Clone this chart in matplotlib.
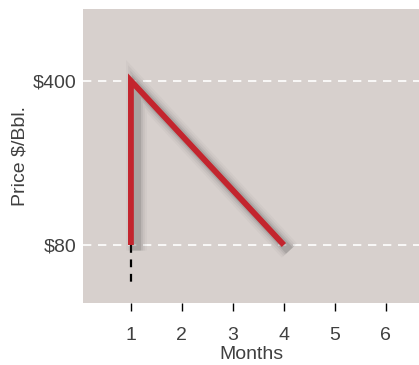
import matplotlib
matplotlib.use('Agg')
from matplotlib import pyplot as plt
import matplotlib.patheffects as pe

# price path (months, $/bbl position)
months = [1, 1, 4]
prices = [80, 400, 80]
drop_x = [1, 1]
drop_y = [80, 5]
xticks = [1, 2, 3, 4, 5, 6]
yticks = [80, 400]
ylabels = ['$80', '$400']

plt.rcParams['font.family'] = ['Liberation Sans', 'DejaVu Sans']
txt = '#404040'

fig = plt.figure(figsize=(4.19, 3.65), dpi=100)
ax = fig.add_axes([83/419, 62/365, 336/419, 294/365])
ax.set_facecolor('#d7d0cd')
for s in ax.spines.values():
    s.set_visible(False)

for v in yticks:
    ax.axhline(v, color='white', lw=1.2, ls=(0, (5, 4)), zorder=1)

ax.plot(drop_x, drop_y, color='black', lw=1.6, ls=(0, (3.5, 3)), zorder=2)

# soft shadow by stacking several faint offset shadows
shadow = []
for w, a in [(15, 0.04), (12, 0.06), (9, 0.09), (6.5, 0.14)]:
    shadow.append(pe.SimpleLineShadow(offset=(4, -4), shadow_color='#404040',
                                      alpha=a, linewidth=w))
shadow.append(pe.Normal())
ax.plot(months, prices, color='#c3252e', lw=4.2, solid_joinstyle='miter',
        solid_capstyle='butt', path_effects=shadow, zorder=3)

ax.set_xlim(0.06, 6.65)
ax.set_ylim(-33, 540)
ax.set_xticks(xticks)
ax.set_xticklabels([str(t) for t in xticks], fontsize=14, color=txt)
ax.set_yticks(yticks)
ax.set_yticklabels(ylabels, fontsize=14, color=txt)
ax.tick_params(axis='x', length=6, width=1, color='black', pad=11)
ax.tick_params(axis='y', length=0, pad=5)
ax.set_xlabel('Months', fontsize=14, color=txt, labelpad=2)
ax.set_ylabel('Price $/Bbl.', fontsize=14, color=txt, labelpad=3)

plt.savefig('out.png', dpi=100, facecolor='white')
